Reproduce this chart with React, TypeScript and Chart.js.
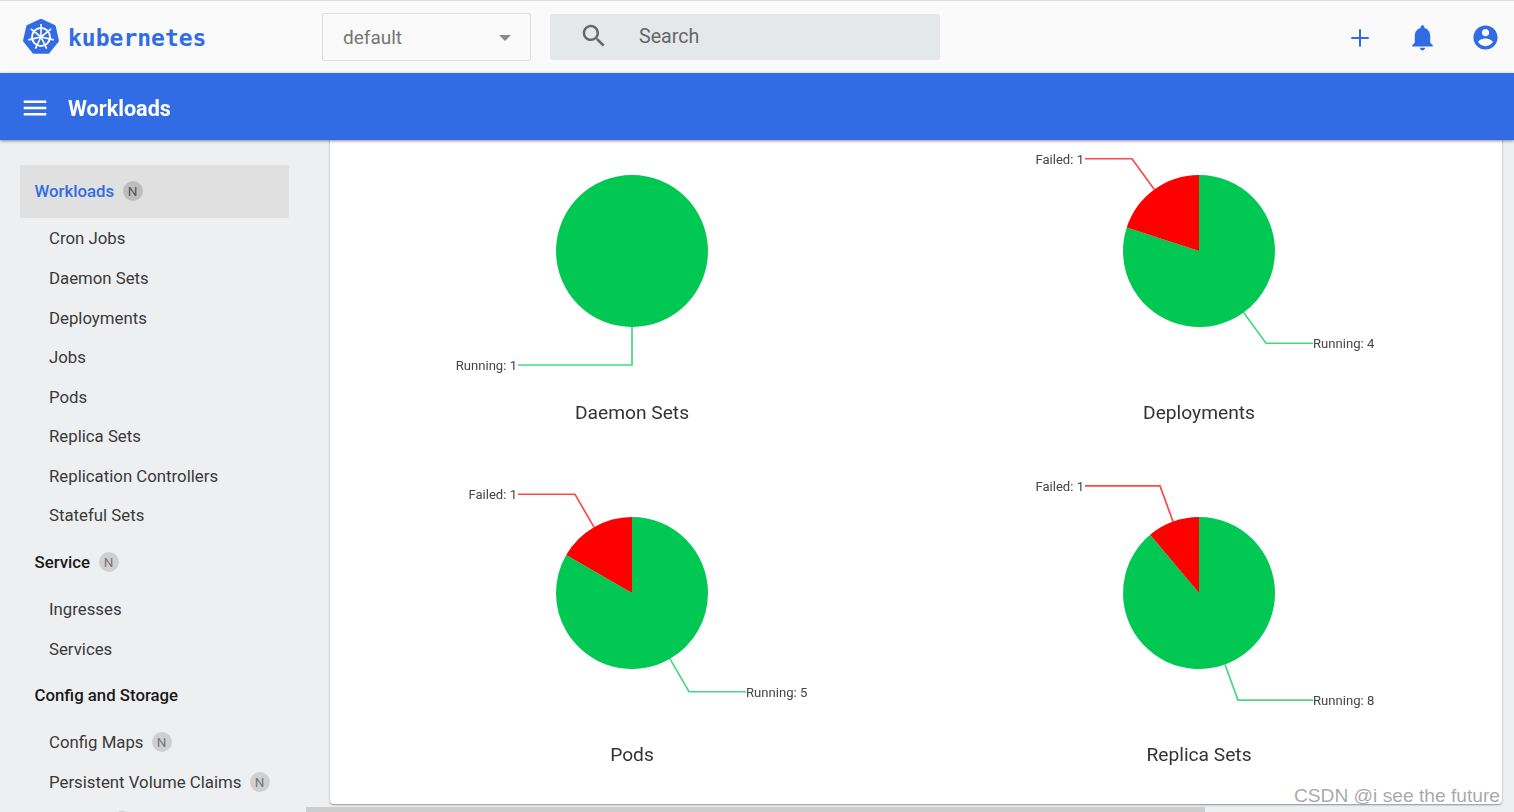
import React, { useEffect, useRef } from "react";
import { Chart, registerables } from "chart.js";

Chart.register(...registerables);

// ---- data ----
const statusLabels = ["Running", "Failed"];
const statusColors = ["#00c853", "#ff0000"];
const daemonSetValues = [1, 0];
const deploymentValues = [4, 1];
const podValues = [5, 1];
const replicaSetValues = [8, 1];
const chartTitles = ["Daemon Sets", "Deployments", "Pods", "Replica Sets"];
const workloadItems = ["Cron Jobs", "Daemon Sets", "Deployments", "Jobs", "Pods", "Replica Sets", "Replication Controllers", "Stateful Sets"];
const serviceItems = ["Ingresses", "Services"];

// ---- layout ----
const PIE_RADIUS = 76;
const LEADER_FACTOR = 1.5;
const CANVAS_W = 500;
const CANVAS_H = 350;
const TITLE_SIZE = 19.2;
const BLUE = "#326ce5";
const chartValues = [daemonSetValues, deploymentValues, podValues, replicaSetValues];
const chartCentres = [[632, 251], [1199, 251], [632, 593], [1199, 593]];

const leaderPlugin = {
  id: "leaders",
  afterDatasetsDraw(chart: any) {
    const ctx = chart.ctx;
    const meta = chart.getDatasetMeta(0);
    const values = chart.data.datasets[0].data;
    meta.data.forEach((arc: any, i: number) => {
      if (!values[i]) return;
      const { x, y, startAngle, endAngle, outerRadius } = arc.getProps(["x", "y", "startAngle", "endAngle", "outerRadius"], true);
      const mid = (startAngle + endAngle) / 2;
      const cos = Math.cos(mid);
      const sin = Math.sin(mid);
      const far = outerRadius * LEADER_FACTOR;
      const elbowX = x + cos * far;
      const elbowY = y + sin * far;
      // the label sits on the right for the first half of the turn, on the left otherwise
      const right = mid + Math.PI / 2 < Math.PI - 1e-6;
      const endX = x + (right ? far : -far);
      ctx.save();
      ctx.globalAlpha = 0.72;
      ctx.strokeStyle = arc.options.backgroundColor;
      ctx.lineWidth = 1.7;
      ctx.beginPath();
      ctx.moveTo(x + cos * outerRadius, y + sin * outerRadius);
      ctx.lineTo(elbowX, elbowY);
      ctx.lineTo(endX, elbowY);
      ctx.stroke();
      ctx.restore();
      ctx.save();
      ctx.font = "13.1px Roboto";
      ctx.fillStyle = "#444";
      ctx.textBaseline = "middle";
      ctx.textAlign = right ? "left" : "right";
      ctx.fillText(`${chart.data.labels[i]}: ${values[i]}`, endX + (right ? 0 : -1), elbowY + 1.5);
      ctx.restore();
    });
  },
};

function PieCard({ index }: { index: number }) {
  const ref = useRef<HTMLCanvasElement | null>(null);
  useEffect(() => {
    const chart = new Chart(ref.current as HTMLCanvasElement, {
      type: "pie",
      data: {
        labels: statusLabels,
        datasets: [{ data: chartValues[index], backgroundColor: statusColors, borderWidth: 0, radius: PIE_RADIUS }],
      },
      options: {
        responsive: false,
        animation: false,
        events: [],
        layout: { padding: { top: TITLE_SIZE * 1.2 } },
        plugins: {
          legend: { display: false },
          tooltip: { enabled: false },
          title: {
            display: true,
            position: "bottom",
            text: chartTitles[index],
            color: "#333",
            font: { family: "Roboto", size: TITLE_SIZE, weight: "normal" },
            padding: { top: 0, bottom: 0 },
          },
        },
      },
      plugins: [leaderPlugin],
    } as any);
    return () => chart.destroy();
  }, [index]);
  const [cx, cy] = chartCentres[index];
  return (
    <canvas
      ref={ref}
      width={CANVAS_W}
      height={CANVAS_H}
      style={{ position: "absolute", left: cx - CANVAS_W / 2, top: cy - CANVAS_H / 2, width: CANVAS_W, height: CANVAS_H }}
    />
  );
}

const Icon = ({ d, size, x, y, color }: { d: string; size: number; x: number; y: number; color: string }) => (
  <svg width={size} height={size} viewBox="0 0 24 24" style={{ position: "absolute", left: x - size / 2, top: y - size / 2 }}>
    <path d={d} fill={color} />
  </svg>
);

const Badge = ({ x, y, dark = false }: { x: number; y: number; dark?: boolean }) => (
  <div style={{ position: "absolute", left: x - 10, top: y - 10, width: 20, height: 20, borderRadius: 10, background: dark ? "#bdbdbd" : "#d0d0d2", color: dark ? "#555" : "#757575", fontSize: 13.5, lineHeight: "20px", textAlign: "center" }}>N</div>
);

const Nav = ({ text, x, y, color = "#3a3a3a", weight = 400 }: { text: string; x: number; y: number; color?: string; weight?: number }) => (
  <div style={{ position: "absolute", left: x, top: y - 12, height: 24, lineHeight: "24px", fontSize: 16.8, color, fontWeight: weight, whiteSpace: "nowrap" }}>{text}</div>
);

const Logo = () => {
  const spokes = [0, 1, 2, 3, 4, 5, 6].map((i) => (i * 360) / 7);
  return (
    <svg width={38} height={38} viewBox="-19 -19 38 38" style={{ position: "absolute", left: 22, top: 18 }}>
      <polygon points="0,-16.5 13,-10.3 16.2,3.7 7.2,14.9 -7.2,14.9 -16.2,3.7 -13,-10.3" fill={BLUE} stroke={BLUE} strokeWidth={3.5} strokeLinejoin="round" />
      <circle r={9} fill="none" stroke="#fff" strokeWidth={2} />
      <circle r={2} fill="#fff" />
      {spokes.map((a) => (
        <line key={a} x1={0} y1={0} x2={0} y2={-13} stroke="#fff" strokeWidth={1.6} transform={`rotate(${a})`} />
      ))}
    </svg>
  );
};

export default function App() {
  useEffect(() => {
    document.body.style.margin = "0";
  }, []);
  return (
    <div style={{ position: "fixed", left: 0, top: 0, width: 1514, height: 812, overflow: "hidden", background: "#eeeff1", fontFamily: "Roboto, sans-serif" }}>
      {/* card */}
      <div style={{ position: "absolute", left: 330, top: 130, width: 1172, height: 674, background: "#fff", borderRadius: "0 0 4px 4px", boxShadow: "0 1px 2px rgba(0,0,0,.4)" }} />
      {chartTitles.map((_, i) => <PieCard key={i} index={i} />)}

      {/* sidebar */}
      <div style={{ position: "absolute", left: 20, top: 165, width: 269, height: 53, background: "#e0e0e0", borderRadius: 2 }} />
      <Nav text="Workloads" x={34.5} y={191} color={BLUE} weight={500} />
      <Badge x={132.5} y={191} dark />
      {workloadItems.map((t, i) => <Nav key={t} text={t} x={49} y={238.4 + i * 39.58} />)}
      <Nav text="Service" x={34.5} y={562} color="#1a1a1a" weight={500} />
      <Badge x={108.5} y={562} />
      {serviceItems.map((t, i) => <Nav key={t} text={t} x={49} y={609 + i * 40} />)}
      <Nav text="Config and Storage" x={34.5} y={695} color="#1a1a1a" weight={500} />
      <Nav text="Config Maps" x={49} y={742} />
      <Badge x={161.5} y={742} />
      <Nav text="Persistent Volume Claims" x={49} y={782} />
      <Badge x={259.5} y={782} />
      <Badge x={122} y={821} />

      {/* scrollbar */}
      <div style={{ position: "absolute", left: 306, top: 807, width: 899, height: 5, background: "#cdcdcd" }} />

      {/* toolbar */}
      <div style={{ position: "absolute", left: 0, top: 0, width: 1514, height: 73, background: "#fafafa", borderTop: "1px solid #dcdce0", boxSizing: "border-box" }} />
      <Logo />
      <div style={{ position: "absolute", left: 68, top: 23, fontFamily: "'DejaVu Sans Mono'", fontWeight: 700, fontSize: 23, lineHeight: "30px", color: BLUE }}>kubernetes</div>
      <div style={{ position: "absolute", left: 322, top: 13, width: 209, height: 48, boxSizing: "border-box", border: "1px solid #dedede", borderRadius: 2, background: "#fafafa" }} />
      <div style={{ position: "absolute", left: 343, top: 26, fontSize: 19, lineHeight: "24px", color: "#757575" }}>default</div>
      <div style={{ position: "absolute", left: 499, top: 35, width: 0, height: 0, borderLeft: "6px solid transparent", borderRight: "6px solid transparent", borderTop: "6px solid #8a8a8a" }} />
      <div style={{ position: "absolute", left: 550, top: 14, width: 390, height: 46, background: "#e5e8e9", borderRadius: 2 }} />
      <Icon x={594} y={36} size={30} color="#666" d="M15.5 14h-.79l-.28-.27C15.41 12.59 16 11.11 16 9.5 16 5.91 13.09 3 9.5 3S3 5.91 3 9.5 5.91 16 9.5 16c1.61 0 3.09-.59 4.23-1.57l.27.28v.79l5 4.99L20.49 19l-4.99-5zm-6 0C7.01 14 5 11.99 5 9.5S7.01 5 9.5 5 14 7.01 14 9.5 11.99 14 9.5 14z" />
      <div style={{ position: "absolute", left: 639, top: 25, fontSize: 19.6, lineHeight: "24px", color: "#666" }}>Search</div>
      <Icon x={1360} y={37.5} size={30} color={BLUE} d="M19 12.8h-6.2V19h-1.6v-6.2H5v-1.6h6.2V5h1.6v6.2H19v1.6z" />
      <Icon x={1422.5} y={37} size={31} color={BLUE} d="M12 22c1.1 0 2-.9 2-2h-4c0 1.1.89 2 2 2zm6-6v-5c0-3.07-1.64-5.64-4.5-6.32V4c0-.83-.67-1.5-1.5-1.5s-1.5.67-1.5 1.5v.68C7.63 5.36 6 7.92 6 11v5l-2 2v1h16v-1l-2-2z" />
      <Icon x={1485} y={37} size={29} color={BLUE} d="M12 2C6.48 2 2 6.48 2 12s4.48 10 10 10 10-4.48 10-10S17.52 2 12 2zm0 3c1.66 0 3 1.34 3 3s-1.34 3-3 3-3-1.34-3-3 1.34-3 3-3zm0 14.2c-2.5 0-4.71-1.28-6-3.22.03-1.99 4-3.08 6-3.08 1.99 0 5.97 1.09 6 3.08-1.29 1.94-3.5 3.22-6 3.22z" />

      {/* title bar */}
      <div style={{ position: "absolute", left: 0, top: 73, width: 1514, height: 67, background: BLUE, boxShadow: "0 1px 3px rgba(0,0,0,.45)" }} />
      <Icon x={34.5} y={107.5} size={30} color="#fff" d="M3 18h18v-2H3v2zm0-5h18v-2H3v2zm0-7v2h18V6H3z" />
      <div style={{ position: "absolute", left: 68, top: 95, fontSize: 21.6, lineHeight: "28px", fontWeight: 700, color: "#fff" }}>Workloads</div>

      {/* watermark */}
      <div style={{ position: "absolute", right: 14, top: 784, fontFamily: "'Liberation Sans'", fontSize: 19.2, lineHeight: "24px", color: "rgba(130,130,130,.7)", whiteSpace: "nowrap" }}>CSDN @i see the future</div>
    </div>
  );
}
